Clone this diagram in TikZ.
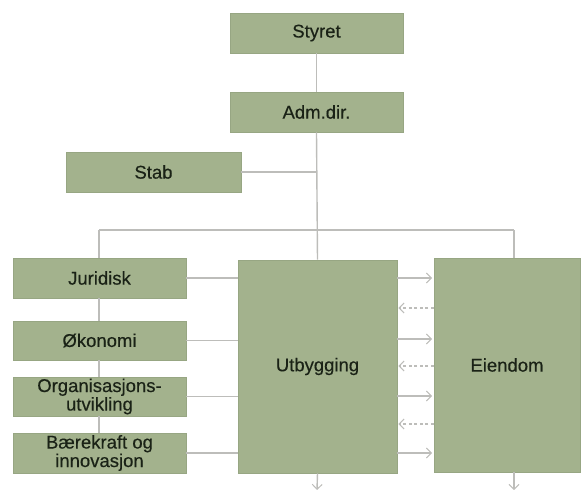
\documentclass[tikz,border=0pt]{standalone}
\usepackage{fontspec}
\setmainfont{Liberation Sans}
\newfontfamily\boxfont{Liberation Sans}[FakeBold=0.35]
\usetikzlibrary{arrows.meta}
\definecolor{boxgreen}{HTML}{A3B28D}
\definecolor{boxedge}{HTML}{97A683}
\definecolor{linegray}{HTML}{BDBDBA}
\definecolor{textdark}{HTML}{1A2216}
\begin{document}
\begin{tikzpicture}[x=1pt,y=-1pt,
  orgbox/.style={fill=boxgreen,draw=boxedge,line width=0.8pt,text=textdark,
    font=\boxfont\fontsize{18.5}{18.5}\selectfont,align=center,inner sep=0pt},
  link/.style={draw=linegray,line width=1.4pt},
  flow/.style={link,-{Straight Barb[length=5pt,width=10pt,line width=1pt]}},
  backflow/.style={flow,dash pattern=on 3pt off 2.5pt}]
\useasboundingbox (0,0) rectangle (582,490);
% box corners given in pixel coordinates
\newcommand{\orgnode}[6]{\node[orgbox,minimum width={#4-#2},minimum height={#5-#3}] (#1) at ({(#2+#4)/2},{(#3+#5)/2}) {#6};}
\orgnode{styret}{230}{13}{403}{53}{Styret}
\orgnode{adm}{230}{92}{403}{132}{Adm.dir.}
\orgnode{stab}{66}{152}{241}{192}{Stab}
\orgnode{jur}{13}{258}{186}{298}{Juridisk}
\orgnode{oko}{13}{321}{186}{360}{Økonomi}
\orgnode{org}{13}{377}{186}{416}{Organisasjons-\\utvikling}
\orgnode{bae}{13}{433}{186}{473}{Bærekraft og\\innovasjon}
\orgnode{utb}{238}{260}{397}{473}{Utbygging}
\orgnode{eie}{434}{258}{580}{472}{Eiendom}
% junction points on the distribution bar
\coordinate (barL) at (99,230);
\coordinate (barR) at (514,230);
\coordinate (stabJ) at (317,172);
\coordinate (utbEnd) at (317,490);
\coordinate (eieEnd) at (514,490);
% hierarchy lines
\draw[link] (styret.south) -- (adm.north);
\draw[link] (adm.south) -- (utb.north);
\draw[link] (stab.east) -- (stabJ);
\draw[link] (barL) -- (barR);
\draw[link] (barR) -- (barR |- eie.north);
\draw[link] (barL) -- (barL |- jur.north);
\draw[link] (jur.south -| barL) -- (barL |- oko.north);
\draw[link] (oko.south -| barL) -- (barL |- org.north);
\draw[link] (org.south -| barL) -- (barL |- bae.north);
% staff units feed into Utbygging
\foreach \s in {jur,oko,org,bae}
  \draw[link] (\s.east) -- (\s.east -| utb.west);
% exchange between Utbygging and Eiendom
\foreach \y in {278,339,396,453}
  \draw[flow] (utb.east |- 0,\y) -- ([xshift=-1.5pt]eie.west |- 0,\y);
\foreach \y in {308,366,424}
  \draw[backflow] (eie.west |- 0,\y) -- ([xshift=1pt]utb.east |- 0,\y);
% outgoing arrows at the bottom
\draw[flow] (utb.south) -- (utbEnd);
\draw[flow] (eie.south -| eieEnd) -- (eieEnd);
\end{tikzpicture}
\end{document}
